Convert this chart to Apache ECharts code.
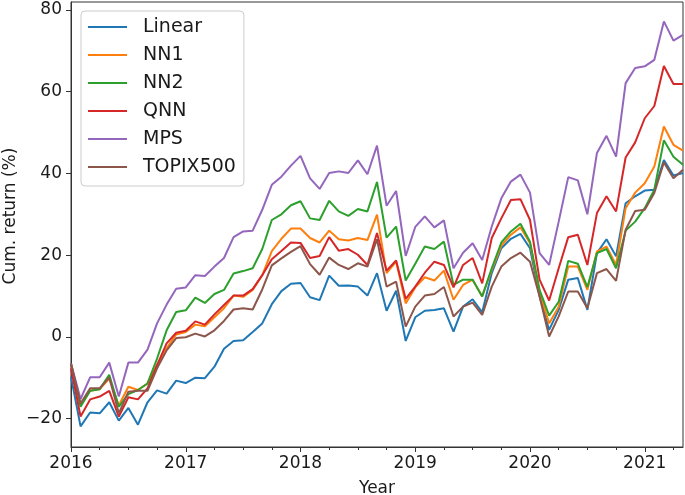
<!DOCTYPE html>
<html><head><meta charset="utf-8">
<script src="https://cdn.jsdelivr.net/npm/echarts@6/dist/echarts.min.js"></script>
<style>html,body{margin:0;padding:0;background:#fff}#c{width:685px;height:495px}</style>
</head><body><div id="c"></div>
<script>
const startYear = 2016;
const xTickLabels = [2016, 2017, 2018, 2019, 2020, 2021];
const xMinorTicks = [2016.25,2016.5,2016.75,2017.25,2017.5,2017.75,2018.25,2018.5,2018.75,2019.25,2019.5,2019.75,2020.25,2020.5,2020.75,2021.25];
const yTickLabels = [-20, 0, 20, 40, 60, 80];
const seriesNames = ['Linear', 'NN1', 'NN2', 'QNN', 'MPS', 'TOPIX500'];
const colors = ['#1f77b4', '#ff7f0e', '#2ca02c', '#d62728', '#9467bd', '#8c564b'];

const linear = [-9.8,-21.9,-18.5,-18.7,-16.0,-20.5,-17.4,-21.5,-16.0,-13.1,-13.9,-10.7,-11.3,-10.0,-10.1,-7.3,-2.9,-1.0,-0.8,1.2,3.3,8.0,11.2,13.0,13.2,9.7,9.0,15.0,12.5,12.6,12.3,10.1,15.6,6.4,11.3,-1.0,4.8,6.4,6.6,7.0,1.3,7.4,9.2,6.0,15.6,21.7,24.0,25.2,21.7,10.0,1.7,6.6,14.0,14.4,6.6,20.5,23.9,19.7,32.7,34.4,35.8,36.0,43.3,39.5,40.1];
const nn1 = [-7.3,-16.7,-13.2,-12.8,-10.2,-16.8,-12.2,-13.0,-11.4,-6.9,-2.8,0.6,1.2,3.0,2.6,4.8,7.0,10.1,9.8,11.5,15.1,21.0,24.0,26.5,26.5,24.2,23.1,26.0,23.9,23.6,24.2,23.7,29.9,15.6,18.4,8.2,12.1,14.6,13.8,16.2,9.1,12.7,14.0,9.9,16.4,22.3,25.0,26.8,22.9,11.0,3.3,7.4,17.2,17.2,11.5,20.9,22.1,17.6,31.5,35.3,37.6,41.7,51.5,47.0,45.6];
const nn2 = [-6.5,-17.1,-13.2,-12.8,-9.3,-17.1,-14.0,-13.0,-11.4,-5.3,1.6,6.1,6.5,9.6,8.3,10.5,11.5,15.5,16.1,16.8,21.5,28.6,30.0,32.2,33.2,29.0,28.6,33.3,30.7,29.6,31.3,30.7,37.9,24.3,27.0,13.8,17.9,22.1,21.5,23.3,12.7,14.0,14.0,9.9,16.8,23.1,25.8,27.7,23.3,11.5,5.2,8.6,18.6,17.9,12.2,20.5,21.5,16.8,26.0,28.2,31.5,36.0,48.1,44.1,42.1];
const qnn = [-7.7,-19.5,-15.3,-14.6,-13.2,-19.5,-14.8,-15.3,-12.6,-6.9,-1.6,1.0,1.5,3.8,3.0,5.5,7.8,10.1,10.1,11.7,15.1,19.0,21.0,23.1,23.0,19.3,19.8,24.4,21.1,21.5,20.1,17.6,25.4,16.2,18.7,9.3,12.3,15.7,18.4,17.6,12.1,17.6,19.3,13.1,24.2,29.0,33.5,33.7,28.6,14.0,8.9,16.8,24.4,25.0,17.6,30.3,34.4,30.7,43.9,47.6,53.5,56.5,66.3,61.9,61.9];
const mps = [-6.5,-15.2,-9.9,-9.9,-6.3,-14.6,-6.3,-6.3,-3.1,3.3,7.9,11.8,12.1,15.1,14.9,17.2,19.3,24.4,25.8,26.0,31.1,37.2,39.2,41.9,44.3,38.8,36.2,40.1,40.5,40.1,43.2,39.8,46.8,32.1,35.7,19.8,26.9,29.5,26.8,28.5,16.8,20.6,22.9,18.8,27.0,33.9,38.0,39.7,35.3,20.5,17.6,28.2,39.1,38.3,30.0,45.0,49.2,44.1,62.1,65.8,66.2,67.8,77.2,72.5,73.9];
const topix500 = [-6.5,-16.3,-12.6,-12.6,-9.9,-18.7,-13.4,-13.2,-13.2,-7.7,-3.3,-0.3,-0.1,0.8,0.1,1.6,3.9,6.7,7.0,6.7,11.6,17.5,19.2,20.8,22.2,17.8,15.2,19.4,17.6,16.6,18.0,17.2,23.9,12.3,13.5,2.5,7.4,10.1,10.5,12.2,5.0,7.4,8.4,5.4,12.3,17.2,19.3,20.6,18.4,9.9,0.1,5.0,11.1,11.1,7.0,15.6,16.6,13.7,26.2,30.8,31.1,35.2,42.7,38.8,40.9];

const allValues = [linear, nn1, nn2, qnn, mps, topix500];
const months = linear.map((_, i) => startYear + i / 12);

const font = 'DejaVu Sans';
const txt = '#1a1a1a';
const xMin = months[0], xMax = months[months.length - 1];

const chart = echarts.init(document.getElementById('c'), null, {renderer: 'canvas'});
chart.setOption({
  animation: false,
  backgroundColor: '#fff',
  grid: {left: 71, right: 2, top: 2, bottom: 48, show: true, borderColor: '#333', borderWidth: 1,
    backgroundColor: 'transparent', containLabel: false, outerBoundsMode: 'none'},
  legend: {
    orient: 'vertical', left: 81, top: 11,
    data: seriesNames,
    icon: 'rect',
    itemWidth: 39, itemHeight: 2, itemGap: 6,
    padding: [5, 8, 8, 7],
    backgroundColor: 'rgba(255,255,255,0.8)',
    borderColor: '#cccccc', borderWidth: 1, borderRadius: 4,
    textStyle: {fontFamily: font, fontSize: 19, color: txt, lineHeight: 22, padding: [0, 0, 0, 11]}
  },
  xAxis: [{
    type: 'value', min: xMin, max: xMax,
    name: 'Year', nameLocation: 'middle', nameGap: 33, nameMoveOverlap: false,
    nameTextStyle: {fontFamily: font, fontSize: 17, color: txt, verticalAlign: 'top'},
    axisLine: {show: true, onZero: false, lineStyle: {color: '#333', width: 1}},
    axisTick: {show: true, length: 5, customValues: xTickLabels, lineStyle: {color: '#333'}},
    axisLabel: {customValues: xTickLabels, fontFamily: font, fontSize: 17, color: txt, margin: 8,
      alignMinLabel: 'center', alignMaxLabel: 'center', hideOverlap: false,
      formatter: v => String(Math.round(v))},
    splitLine: {show: false}
  }, {
    type: 'value', min: xMin, max: xMax, position: 'bottom',
    axisLine: {show: false, onZero: false},
    axisTick: {show: true, length: 3, customValues: xMinorTicks, lineStyle: {color: '#333'}},
    axisLabel: {show: false},
    splitLine: {show: false}
  }],
  yAxis: {
    type: 'value', min: -26.95, max: 81.95,
    name: 'Cum. return (%)', nameLocation: 'middle', nameGap: 52, nameMoveOverlap: false,
    nameTextStyle: {fontFamily: font, fontSize: 17, color: txt, padding: [0, 0, 0, 17]},
    axisLine: {show: true, onZero: false, lineStyle: {color: '#333', width: 1}},
    axisTick: {show: true, length: 5, customValues: yTickLabels, lineStyle: {color: '#333'}},
    axisLabel: {customValues: yTickLabels, fontFamily: font, fontSize: 17, color: txt, margin: 9,
      align: 'right', verticalAlign: 'middle',
      formatter: v => (v < 0 ? '\u2212' + Math.abs(Math.round(v)) : String(Math.round(v)))},
    splitLine: {show: false}
  },
  series: seriesNames.map((name, k) => ({
    name: name, type: 'line', xAxisIndex: 0,
    data: allValues[k].map((v, i) => [months[i], v]),
    symbol: 'none', showSymbol: false,
    lineStyle: {color: colors[k], width: 2},
    itemStyle: {color: colors[k]},
    z: 2 + k
  }))
});
</script>
</body></html>
